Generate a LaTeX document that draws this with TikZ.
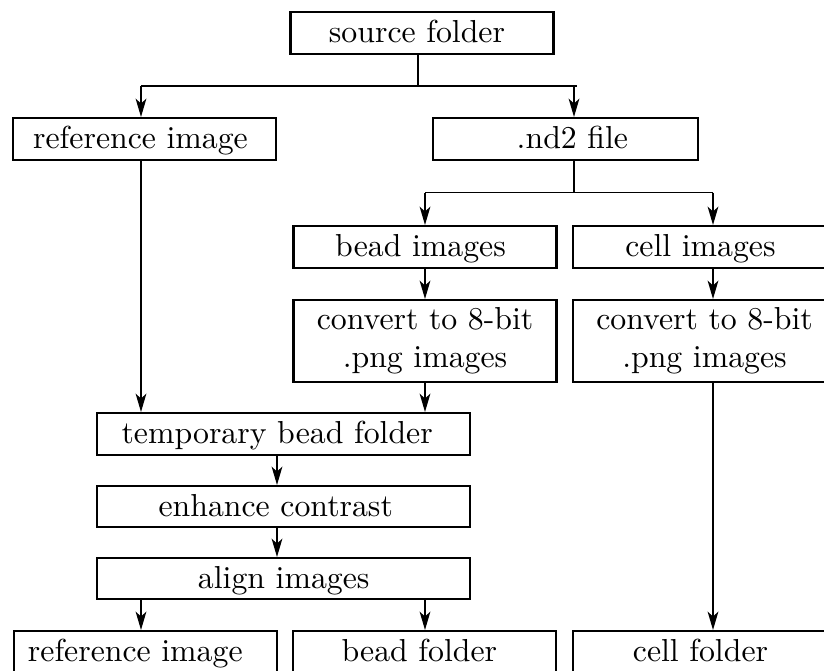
\documentclass[tikz,border=0pt]{standalone}
\usetikzlibrary{arrows.meta}
\newdimen\pxu \pxu=0.3145pt
\newcommand\sh[2]{\hspace*{#1\pxu}#2\hspace*{-#1\pxu}}
\begin{document}
\begin{tikzpicture}[x=0.3145pt,y=-0.3145pt,
  box/.style={draw, line width=0.65pt, inner sep=0pt, minimum width=263*\pxu, minimum height=42*\pxu},
  onel/.style={text height=7.2pt, text depth=1pt},
  conn/.style={line width=0.5pt},
  arr/.style={conn, -{Stealth[length=5.8pt,width=3.4pt,inset=1.6pt]}}]
\useasboundingbox (0,0) rectangle (824,670);
\clip (0,0) rectangle (824,670);

\node[box,onel] (source) at (422,33) {\sh{-5}{source folder}};
\node[box,onel] (ref1) at (144.5,139) {\sh{-4}{reference image}};
\node[box,onel,minimum width=265*\pxu] (nd2) at (565.4,139) {\sh{7}{.nd2 file}};
\node[box,onel] (bead) at (425,247) {\sh{-4.5}{bead images}};
\node[box,onel] (cell) at (704.5,247) {\sh{-4}{cell images}};
\node[box,align=center,minimum height=82*\pxu] (conv1) at (425,341) {convert to 8-bit\\.png images};
\node[box,align=center,minimum height=82*\pxu] (conv2) at (704.5,341) {convert to 8-bit\\.png images};
\node[box,onel,minimum width=373*\pxu] (temp) at (283.7,434) {\sh{-6.5}{temporary bead folder}};
\node[box,onel,minimum width=373*\pxu,minimum height=41*\pxu] (enh) at (283.7,506.5) {\sh{-8}{enhance contrast}};
\node[box,onel,minimum width=373*\pxu,minimum height=41*\pxu] (alg) at (283.7,578.5) {align images};
\node[box,onel] (ref2) at (145.3,652) {\sh{-10}{reference image}};
\node[box,onel] (beadf) at (424.4,652) {\sh{-5}{bead folder}};
\node[box,onel] (cellf) at (704.5,652) {\sh{-4}{cell folder}};

\coordinate (xs) at (418,0);
\coordinate (xa) at (141,0);
\coordinate (xb) at (425,0);
\coordinate (xc) at (713,0);
\coordinate (xn) at (574,0);
\coordinate (xm) at (277,0);
\coordinate (split1) at (418,86);
\coordinate (split2) at (574,192.5);

\draw[conn] (source.south -| xs) -- (split1);
\draw[conn] (xa |- split1) -- ([xshift=0.8pt]xn |- split1);
\draw[arr] (xa |- split1) -- (ref1.north -| xa);
\draw[arr] (xn |- split1) -- (nd2.north -| xn);

\draw[conn] (nd2.south -| xn) -- (split2);
\draw[conn] (xb |- split2) -- (xc |- split2);
\draw[arr] (xb |- split2) -- (bead.north -| xb);
\draw[arr] (xc |- split2) -- (cell.north -| xc);

\draw[arr] (bead.south -| xb) -- (conv1.north -| xb);
\draw[arr] (cell.south -| xc) -- (conv2.north -| xc);
\draw[arr] (ref1.south -| xa) -- (temp.north -| xa);
\draw[arr] (conv1.south -| xb) -- (temp.north -| xb);
\draw[arr] (temp.south -| xm) -- (enh.north -| xm);
\draw[arr] (enh.south -| xm) -- (alg.north -| xm);
\draw[arr] (alg.south -| xa) -- (ref2.north -| xa);
\draw[arr] (alg.south -| xb) -- (beadf.north -| xb);
\draw[arr] (conv2.south -| xc) -- (cellf.north -| xc);
\end{tikzpicture}
\end{document}
